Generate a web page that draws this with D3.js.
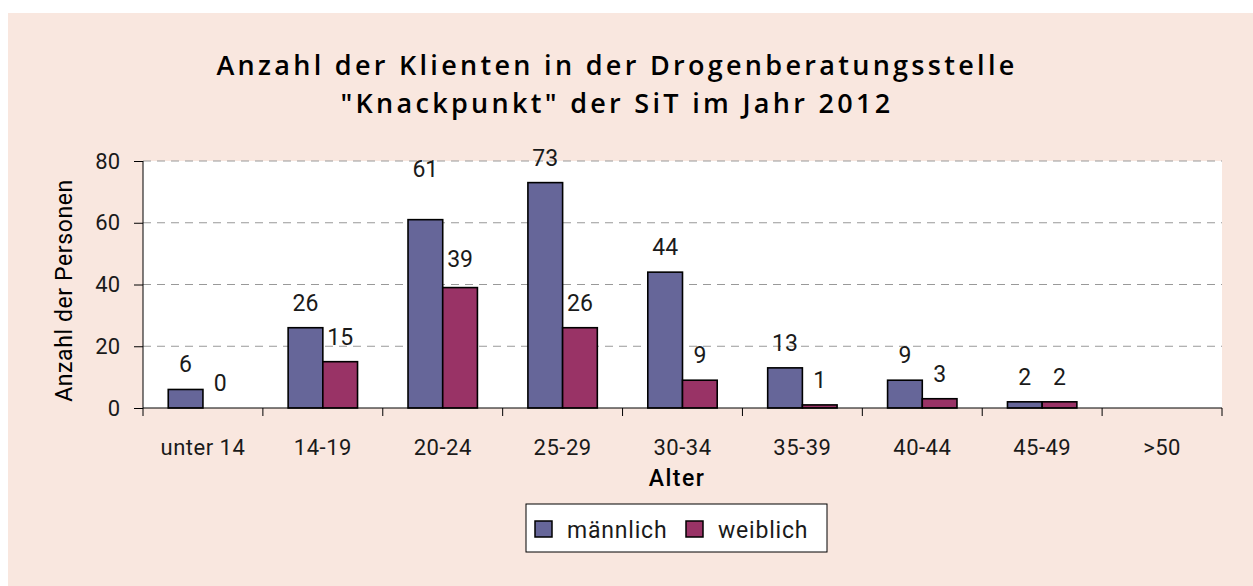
<!DOCTYPE html>
<meta charset="utf-8">
<style>
body { margin: 0; background: #fff; }
svg text { font-family: Roboto, "DejaVu Sans", sans-serif; font-weight: 400; fill: #1a1a1a; }
.title { font-family: "Open Sans", "Noto Sans", sans-serif; font-weight: 600; font-size: 27px; letter-spacing: 3.3px; fill: #000; }
.axis text { font-size: 22px; }
.axis path, .axis line { stroke: #000; }
.grid line { stroke: #999; stroke-dasharray: 8 6; }
</style>
<svg width="1253" height="586"></svg>
<script src="https://d3js.org/d3.v7.min.js"></script>
<script>

var categories = ["unter 14", "14-19", "20-24", "25-29", "30-34", "35-39", "40-44", "45-49", ">50"];
var maennlich = [6, 26, 61, 73, 44, 13, 9, 2, null];
var weiblich = [0, 15, 39, 26, 9, 1, 3, 2, null];
var series = ["männlich", "weiblich"];
var colors = ["#666699", "#993366"];
var yTicks = [0, 20, 40, 60, 80];

var svg = d3.select("svg"),
		width = +svg.attr("width"),
		height = +svg.attr("height");

var margin = {top: 161, right: 31, bottom: 178, left: 143};
var plotW = width - margin.left - margin.right,
		plotH = height - margin.top - margin.bottom;

// background panel
svg.append("rect")
		.attr("x", 8).attr("y", 13)
		.attr("width", width - 8).attr("height", height - 13)
		.attr("fill", "#f9e7df");

var g = svg.append("g")
		.attr("transform", "translate(" + margin.left + "," + margin.top + ")");

g.append("rect")
		.attr("width", plotW).attr("height", plotH)
		.attr("fill", "#fff");

var x = d3.scaleBand()
		.domain(categories)
		.range([0, plotW])
		.paddingInner(0)
		.paddingOuter(0);

var barW = 34.7;
var inner = d3.scaleBand()
		.domain(series)
		.range([0, 2 * barW])
		.padding(0);

var y = d3.scaleLinear()
		.domain([0, 80])
		.range([plotH, 0]);

// grid
g.append("g")
		.attr("class", "grid")
	.selectAll("line")
	.data(yTicks.filter(function(d) { return d > 0; }))
	.enter().append("line")
		.attr("x1", 0).attr("x2", plotW)
		.attr("y1", function(d) { return y(d); })
		.attr("y2", function(d) { return y(d); });

// bars
var data = categories.map(function(c, i) {
	return {cat: c, values: [maennlich[i], weiblich[i]]};
});

var offset = (x.bandwidth() - 2 * barW) / 2;

// labels in the 20-24 group sit a bit higher in the original
function lift(cat, i) {
	if (cat === "20-24") return i === 0 ? 26 : 4;
	return 0;
}

var group = g.selectAll(".group")
	.data(data)
	.enter().append("g")
		.attr("class", "group")
		.attr("transform", function(d) { return "translate(" + (x(d.cat) + offset) + ",0)"; });

group.selectAll("rect")
	.data(function(d) { return d.values.map(function(v, i) { return {cat: d.cat, s: series[i], v: v, i: i}; }); })
	.enter().filter(function(d) { return d.v !== null && d.v > 0; })
	.append("rect")
		.attr("x", function(d) { return inner(d.s); })
		.attr("y", function(d) { return y(d.v); })
		.attr("width", inner.bandwidth())
		.attr("height", function(d) { return plotH - y(d.v); })
		.attr("fill", function(d) { return colors[d.i]; })
		.attr("stroke", "#000")
		.attr("stroke-width", 1.6);

group.selectAll("text")
	.data(function(d) { return d.values.map(function(v, i) { return {cat: d.cat, s: series[i], v: v, i: i}; }); })
	.enter().filter(function(d) { return d.v !== null; })
	.append("text")
		.attr("x", function(d) { return inner(d.s) + inner.bandwidth() / 2; })
		.attr("y", function(d) { return y(d.v) - 17 - lift(d.cat, d.i); })
		.attr("text-anchor", "middle")
		.attr("font-size", 23)
		.text(function(d) { return d.v; });

// axes
g.append("g")
		.attr("class", "axis")
		.call(d3.axisLeft(y).tickValues(yTicks).tickSize(9).tickPadding(14))
	.call(function(a) { a.select(".domain").attr("d", "M0," + plotH + "V0"); });

var xAxis = g.append("g")
		.attr("class", "axis")
		.attr("transform", "translate(0," + plotH + ")")
		.call(d3.axisBottom(x).tickSize(0).tickPadding(31));

xAxis.select(".domain").attr("d", "M0,0H" + plotW);
xAxis.selectAll(".tick text").style("letter-spacing", "0.5px");

g.append("g")
		.attr("transform", "translate(0," + plotH + ")")
	.selectAll("line")
	.data(d3.range(categories.length + 1))
	.enter().append("line")
		.attr("x1", function(d) { return d * x.step(); })
		.attr("x2", function(d) { return d * x.step(); })
		.attr("y1", 0).attr("y2", 8)
		.attr("stroke", "#000");

// titles
var title = svg.append("text")
		.attr("class", "title")
		.attr("text-anchor", "middle")
		.attr("x", 617);
title.append("tspan").attr("x", 617).attr("y", 75).text("Anzahl der Klienten in der Drogenberatungsstelle");
title.append("tspan").attr("x", 617).attr("y", 113).text("\"Knackpunkt\" der SiT im Jahr 2012");

svg.append("text")
		.attr("transform", "translate(72," + (margin.top + plotH / 2 + 6) + ") rotate(-90)")
		.attr("text-anchor", "middle")
		.attr("font-size", 23)
		.style("letter-spacing", "0.6px")
		.style("fill", "#000")
		.text("Anzahl der Personen");

svg.append("text")
		.attr("x", 677).attr("y", 486)
		.attr("text-anchor", "middle")
		.attr("font-size", 23)
		.style("font-weight", "500")
		.style("fill", "#000")
		.style("letter-spacing", "1.5px")
		.text("Alter");

// legend
var legend = svg.append("g").attr("transform", "translate(526,504)");
legend.append("rect")
		.attr("width", 301).attr("height", 48)
		.attr("fill", "#fff").attr("stroke", "#000");

var items = legend.selectAll(".item")
	.data(series)
	.enter().append("g")
		.attr("transform", function(d, i) { return "translate(" + (9 + i * 151) + ",0)"; });

items.append("rect")
		.attr("y", 17).attr("width", 17).attr("height", 16)
		.attr("fill", function(d, i) { return colors[i]; })
		.attr("stroke", "#000").attr("stroke-width", 1.5);

items.append("text")
		.attr("x", 32).attr("y", 34)
		.attr("font-size", 23)
		.style("letter-spacing", "0.8px")
		.text(function(d) { return d; });

</script>
